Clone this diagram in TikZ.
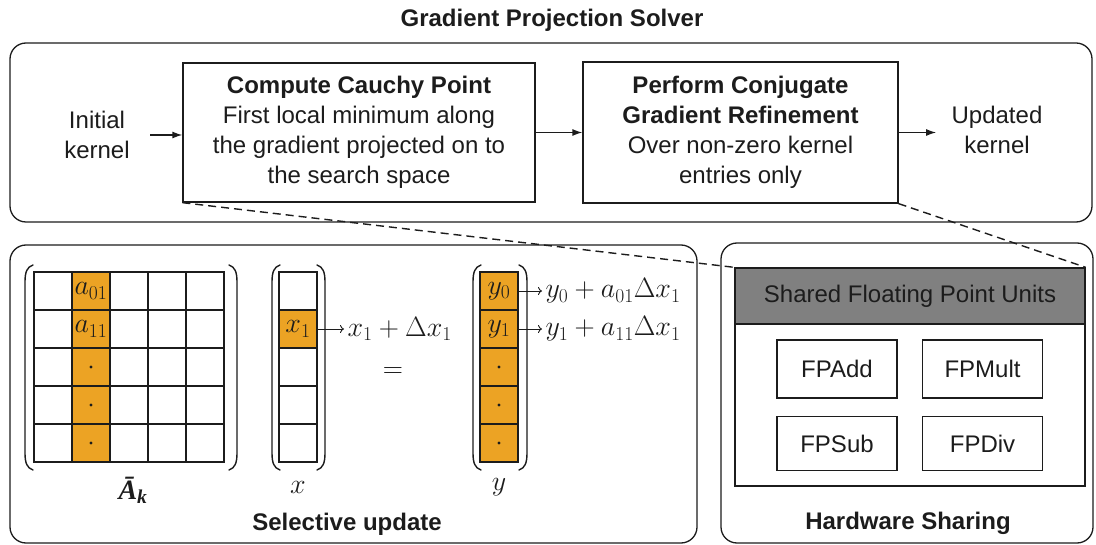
\documentclass[tikz,border=0pt]{standalone}
\usepackage{fix-cm}
\usepackage{amsmath,bm}
\usepackage{fontspec}
\setmainfont{Liberation Sans}
\newfontfamily\labelserif{Liberation Serif}
\usetikzlibrary{arrows.meta}

\definecolor{ink}{RGB}{28,28,28}
\definecolor{amber}{RGB}{236,163,36}
\definecolor{headgray}{RGB}{128,128,128}

% a pair of tall round brackets around a column of cells
\newcommand{\parenpair}[4]{% left x, right x, top y, bottom y
  \draw[paren] (#1+8,#3) .. controls (#1+2,#3+2) and (#1,#3+7) .. (#1,#3+17)
     -- (#1,#4-17) .. controls (#1,#4-7) and (#1+2,#4-2) .. (#1+8,#4);
  \draw[paren] (#2-8,#3) .. controls (#2-2,#3+2) and (#2,#3+7) .. (#2,#3+17)
     -- (#2,#4-17) .. controls (#2,#4-7) and (#2-2,#4-2) .. (#2-8,#4);
}

\begin{document}
\begin{tikzpicture}[x=1pt,y=-1pt,
  font=\fontsize{24}{30}\selectfont, text=ink,
  panel/.style={draw=ink, line width=1.3pt, rounded corners=16pt, inner sep=0pt},
  stepbox/.style={draw=ink, line width=1.3pt, fill=white, align=center, inner sep=0pt},
  unitbox/.style={draw=ink, line width=1.3pt, minimum width=120pt, inner sep=0pt},
  cell/.style={draw=ink, line width=1.2pt, minimum size=38pt, inner sep=0pt},
  hot/.style={cell, fill=amber},
  mathtext/.style={font=\fontsize{28}{30}\selectfont},
  flow/.style={draw=ink, line width=1.3pt, -{Latex[length=10pt,width=7pt]}},
  thin/.style={draw=ink, line width=0.9pt, -{To[length=4pt,width=8pt]}},
  link/.style={draw=ink, line width=1.4pt, dash pattern=on 8pt off 5pt},
  paren/.style={draw=ink, line width=1.4pt, line cap=round},
  heading/.style={font=\bfseries\fontsize{24}{30}\selectfont}]

\useasboundingbox (0,0) rectangle (1096,545);

% ---------- solver pipeline ----------
\node[heading] (title) at (552,20) {Gradient Projection Solver};
\node[panel, minimum width=1082pt, minimum height=179pt] (solver) at (551,132.5) {};

\node[align=center] (init) at (97,135) {Initial\\kernel};
\node[stepbox, minimum width=352pt, minimum height=139pt] (cauchy) at (359,132.5)
  {\textbf{Compute Cauchy Point}\\First local minimum along\\the gradient projected on to\\the search space};
\node[stepbox, minimum width=315pt, minimum height=141pt] (cg) at (740.5,132.5)
  {\textbf{Perform Conjugate}\\\textbf{Gradient Refinement}\\Over non-zero kernel\\entries only};
\node[align=center] (upd) at (997,130) {Updated\\kernel};

\draw[flow, shorten <=17pt] (init.east) -- (cauchy.west |- init.east);
\draw[flow] (cauchy.east) -- (cg.west |- cauchy.east);
\draw[flow, shorten >=12pt] (cg.east) -- (upd.west |- cg.east);

% ---------- lower panels ----------
\node[panel, minimum width=687pt, minimum height=298pt] (sel) at (353.5,394) {};
\node[panel, minimum width=372pt, minimum height=300pt] (hw) at (907,393) {};

% hardware sharing
\node[draw=ink, line width=1.3pt, minimum width=350pt, minimum height=218pt, inner sep=0pt] (fpu) at (910,377) {};
\node[draw=ink, line width=1.3pt, fill=headgray, minimum width=350pt, minimum height=56pt,
      inner sep=0pt, anchor=north] (fpuhead) at (fpu.north) {Shared Floating Point Units};
\node[unitbox, minimum height=58pt] (fpadd) at (837,369) {FPAdd};
\node[unitbox, minimum height=58pt] (fpmult) at (982.5,369) {FPMult};
\node[unitbox, minimum height=54pt] (fpsub) at (837,443.5) {FPSub};
\node[unitbox, minimum height=54pt] (fpdiv) at (982.5,443.5) {FPDiv};
\node[heading] (hwlabel) at (908,523) {Hardware Sharing};

% selective update: matrix
\foreach \r in {0,...,4}
  \foreach \c in {0,2,3,4}
    \node[cell] (A\r\c) at (53+38*\c,291+38*\r) {};
\node[hot, mathtext] (A01) at (91,291) {$a_{01}$};
\node[hot, mathtext] (A11) at (91,329) {$a_{11}$};
\node[hot] (A21) at (91,367) {};
\node[hot] (A31) at (91,405) {};
\node[hot] (A41) at (91,443) {};
\foreach \n in {A21,A31,A41} \fill[ink] (\n) circle (1.7pt);
\parenpair{25}{237}{265}{470}
\node[inner sep=1pt, font=\labelserif\bfseries\itshape\fontsize{28}{30}\selectfont]
  (Alabel) at (133,490) {Ā\textsubscript{k}};

% vector x
\node[cell] (X0) at (298,291) {};
\node[hot, mathtext]  (X1) at (298,329) {$x_1$};
\node[cell] (X2) at (298,367) {};
\node[cell] (X3) at (298,405) {};
\node[cell] (X4) at (298,443) {};
\parenpair{272}{325}{265}{470}
\node[mathtext] (xlabel) at (298,487) {$x$};
\node[mathtext, anchor=west] (xnew) at (344,329) {$x_1+\Delta x_1$};
\draw[thin] (X1.east) -- (xnew.west |- X1.east);

\node[mathtext] (eq) at (393,373) {$=$};

% vector y
\node[hot, mathtext] (Y0) at (499,291) {$y_0$};
\node[hot, mathtext] (Y1) at (499,329) {$y_1$};
\node[hot] (Y2) at (499,367) {};
\node[hot] (Y3) at (499,405) {};
\node[hot] (Y4) at (499,443) {};
\foreach \n in {Y2,Y3,Y4} \fill[ink] (\n) circle (1.7pt);
\parenpair{473}{527}{265}{470}
\node[mathtext] (ylabel) at (499,487) {$y$};
\node[mathtext, anchor=west] (ynew0) at (542,291) {$y_0+a_{01}\Delta x_1$};
\node[mathtext, anchor=west] (ynew1) at (542,329) {$y_1+a_{11}\Delta x_1$};
\draw[thin] (Y0.east) -- (ynew0.west |- Y0.east);
\draw[thin] (Y1.east) -- (ynew1.west |- Y1.east);

\node[heading] (sellabel) at (347,524) {Selective update};

% zoom lines from the pipeline to the shared units
\draw[link] (cauchy.south west) -- (fpu.north west);
\draw[link] (cg.south east) -- (fpu.north east);
\end{tikzpicture}
\end{document}
